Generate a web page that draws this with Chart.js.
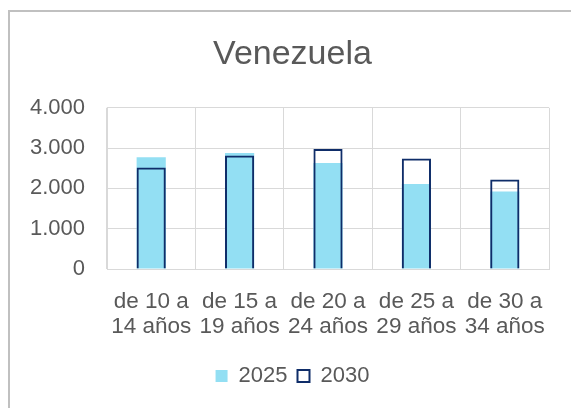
<!DOCTYPE html>
<html>
<head>
<meta charset="utf-8">
<script src="https://cdn.jsdelivr.net/npm/chart.js@4/dist/chart.umd.min.js"></script>
<style>
  html, body { margin: 0; padding: 0; background: #ffffff; overflow: hidden; width: 571px; height: 408px; }
  #frame { position: absolute; left: 8px; top: 10px; width: 563px; height: 398px; border-top: 2px solid #c0c0c0; border-left: 2px solid #c0c0c0; box-sizing: border-box; }
  #wrap { position: absolute; left: 0; top: 0; width: 575px; height: 408px; }
</style>
</head>
<body>
<div id="frame"></div>
<div id="wrap"><canvas id="c"></canvas></div>
<script>
const titleText = 'Venezuela';
const categories = [
  ['de 10 a', '14 años'],
  ['de 15 a', '19 años'],
  ['de 20 a', '24 años'],
  ['de 25 a', '29 años'],
  ['de 30 a', '34 años']
];
const series2025 = [2775, 2880, 2630, 2110, 1920];
const series2030 = [2520, 2815, 2975, 2740, 2220];
const seriesNames = ['2025', '2030'];
const yMin = 0, yMax = 4000, yStep = 1000;

const textColor = '#595959';
const gridColor = '#d9d9d9';
const fontFamily = '"Liberation Sans", Arial, sans-serif';

function fmt(v) {
  return String(v).replace(/\B(?=(\d{3})+(?!\d))/g, '.');
}

new Chart(document.getElementById('c'), {
  type: 'bar',
  data: {
    labels: categories,
    datasets: [
      {
        label: seriesNames[0],
        data: series2025,
        backgroundColor: '#93dff3',
        borderWidth: 0,
        order: 2
      },
      {
        label: seriesNames[1],
        data: series2030,
        backgroundColor: 'rgba(255,255,255,0)',
        borderColor: '#0f2d69',
        borderWidth: 2,
        order: 1
      }
    ]
  },
  options: {
    responsive: true,
    maintainAspectRatio: false,
    devicePixelRatio: 1,
    animation: false,
    layout: { padding: { left: 10, right: 0, top: 0, bottom: 11 } },
    datasets: { bar: { grouped: false, categoryPercentage: 1, barPercentage: 0.33 } },
    plugins: {
      title: {
        display: true,
        text: titleText,
        color: textColor,
        font: { family: fontFamily, size: 34, weight: 'normal', lineHeight: 1.2 },
        padding: { top: 34, bottom: 33 }
      },
      legend: {
        display: true,
        position: 'bottom',
        labels: {
          color: textColor,
          font: { family: fontFamily, size: 22 },
          boxWidth: 12,
          boxHeight: 12,
          padding: 10,
          sort: (a, b) => a.datasetIndex - b.datasetIndex
        }
      },
      tooltip: { enabled: false }
    },
    scales: {
      x: {
        grid: { color: gridColor, lineWidth: 1, drawTicks: false, offset: true },
        border: { color: gridColor },
        ticks: {
          color: textColor,
          font: { family: fontFamily, size: 22.5, lineHeight: 1.11 },
          padding: 20,
          maxRotation: 0,
          minRotation: 0,
          autoSkip: false
        },
        afterFit: s => { s.height = 86; }
      },
      y: {
        min: yMin,
        max: yMax,
        grid: { color: gridColor, lineWidth: 1, drawTicks: false },
        border: { color: gridColor },
        ticks: {
          stepSize: yStep,
          color: textColor,
          font: { family: fontFamily, size: 22 },
          padding: 22,
          callback: v => fmt(v)
        },
        afterFit: s => { s.width = 97; }
      },
      yRight: {
        position: 'right',
        display: true,
        grid: { display: false, drawTicks: false },
        border: { display: false },
        ticks: { display: false },
        afterFit: s => { s.width = 26; }
      }
    }
  }
});
</script>
</body>
</html>
